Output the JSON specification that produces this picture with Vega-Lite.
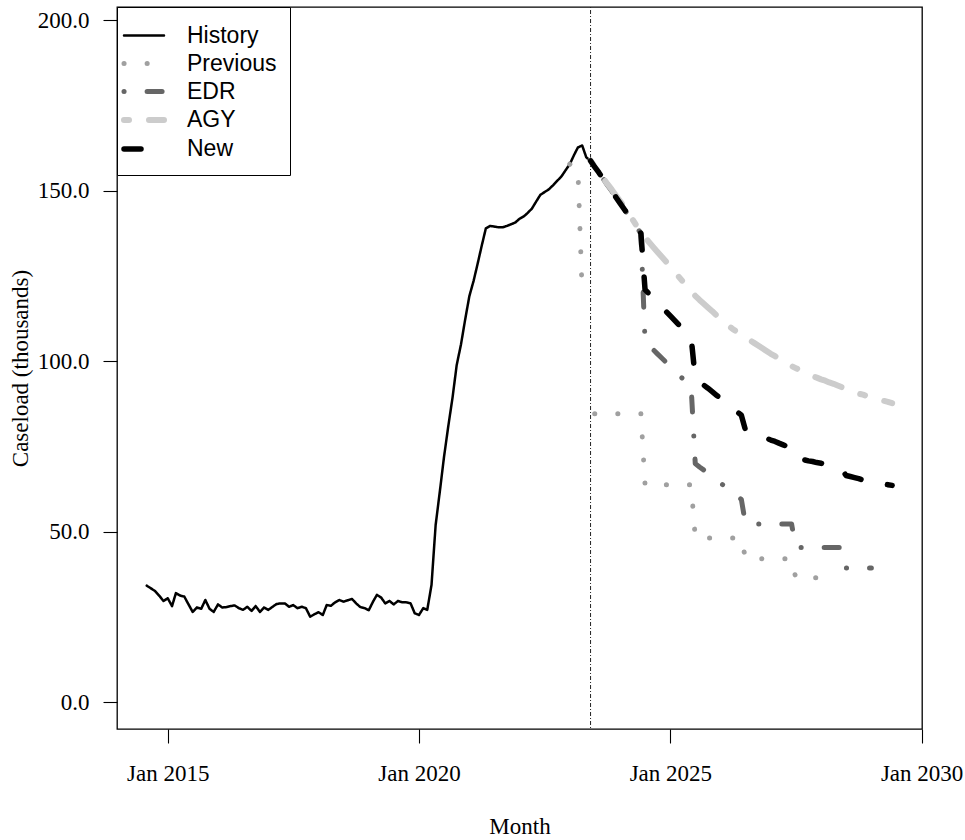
{
 "$schema": "https://vega.github.io/schema/vega-lite/v6.json",
 "width": 805,
 "height": 722,
 "autosize": {"type": "none"},
 "padding": {"left": 117, "top": 7, "right": 43, "bottom": 111},
 "background": "white",
 "config": {
  "view": {"stroke": "#000000", "strokeWidth": 1.3},
  "axis": {"grid": false, "domain": false, "tickColor": "#000000", "tickWidth": 1.1, "tickSize": 14,
           "labelFont": "Liberation Serif", "labelFontSize": 23, "labelColor": "#000000",
           "titleFont": "Liberation Serif", "titleFontSize": 23, "titleFontWeight": "normal", "titleColor": "#000000"},
  "legend": {"orient": "top-left", "offset": 0, "title": null, "strokeColor": "#000000", "fillColor": "#ffffff",
             "padding": 13.5, "symbolType": "M-1.4815,0H1.4815", "symbolSize": 729, "symbolOffset": -3, "labelFont": "Liberation Sans",
             "labelFontSize": 23, "labelColor": "#000000", "labelOffset": 26.5, "rowPadding": 0}
 },
 "data": {"values": [
  {"series":"History","month":"2014-08-01","value":34.2},
  {"series":"History","month":"2014-09-01","value":33.4},
  {"series":"History","month":"2014-10-01","value":32.6},
  {"series":"History","month":"2014-11-01","value":31.2},
  {"series":"History","month":"2014-12-01","value":29.7},
  {"series":"History","month":"2015-01-01","value":30.5},
  {"series":"History","month":"2015-02-01","value":28.2},
  {"series":"History","month":"2015-03-01","value":32.0},
  {"series":"History","month":"2015-04-01","value":31.3},
  {"series":"History","month":"2015-05-01","value":31.0},
  {"series":"History","month":"2015-06-01","value":28.7},
  {"series":"History","month":"2015-07-01","value":26.5},
  {"series":"History","month":"2015-08-01","value":27.8},
  {"series":"History","month":"2015-09-01","value":27.4},
  {"series":"History","month":"2015-10-01","value":30.0},
  {"series":"History","month":"2015-11-01","value":27.4},
  {"series":"History","month":"2015-12-01","value":26.5},
  {"series":"History","month":"2016-01-01","value":28.7},
  {"series":"History","month":"2016-02-01","value":27.8},
  {"series":"History","month":"2016-03-01","value":27.9},
  {"series":"History","month":"2016-04-01","value":28.2},
  {"series":"History","month":"2016-05-01","value":28.4},
  {"series":"History","month":"2016-06-01","value":27.6},
  {"series":"History","month":"2016-07-01","value":27.1},
  {"series":"History","month":"2016-08-01","value":28.0},
  {"series":"History","month":"2016-09-01","value":26.8},
  {"series":"History","month":"2016-10-01","value":28.2},
  {"series":"History","month":"2016-11-01","value":26.5},
  {"series":"History","month":"2016-12-01","value":27.8},
  {"series":"History","month":"2017-01-01","value":27.1},
  {"series":"History","month":"2017-02-01","value":28.0},
  {"series":"History","month":"2017-03-01","value":28.8},
  {"series":"History","month":"2017-04-01","value":29.0},
  {"series":"History","month":"2017-05-01","value":29.0},
  {"series":"History","month":"2017-06-01","value":28.0},
  {"series":"History","month":"2017-07-01","value":28.5},
  {"series":"History","month":"2017-08-01","value":27.6},
  {"series":"History","month":"2017-09-01","value":28.0},
  {"series":"History","month":"2017-10-01","value":27.6},
  {"series":"History","month":"2017-11-01","value":25.1},
  {"series":"History","month":"2017-12-01","value":25.8},
  {"series":"History","month":"2018-01-01","value":26.4},
  {"series":"History","month":"2018-02-01","value":25.6},
  {"series":"History","month":"2018-03-01","value":28.5},
  {"series":"History","month":"2018-04-01","value":28.3},
  {"series":"History","month":"2018-05-01","value":29.3},
  {"series":"History","month":"2018-06-01","value":30.0},
  {"series":"History","month":"2018-07-01","value":29.5},
  {"series":"History","month":"2018-08-01","value":29.9},
  {"series":"History","month":"2018-09-01","value":30.3},
  {"series":"History","month":"2018-10-01","value":29.0},
  {"series":"History","month":"2018-11-01","value":27.9},
  {"series":"History","month":"2018-12-01","value":27.6},
  {"series":"History","month":"2019-01-01","value":27.0},
  {"series":"History","month":"2019-02-01","value":29.5},
  {"series":"History","month":"2019-03-01","value":31.5},
  {"series":"History","month":"2019-04-01","value":30.7},
  {"series":"History","month":"2019-05-01","value":29.0},
  {"series":"History","month":"2019-06-01","value":29.7},
  {"series":"History","month":"2019-07-01","value":28.7},
  {"series":"History","month":"2019-08-01","value":29.7},
  {"series":"History","month":"2019-09-01","value":29.3},
  {"series":"History","month":"2019-10-01","value":29.3},
  {"series":"History","month":"2019-11-01","value":29.0},
  {"series":"History","month":"2019-12-01","value":26.1},
  {"series":"History","month":"2020-01-01","value":25.6},
  {"series":"History","month":"2020-02-01","value":27.6},
  {"series":"History","month":"2020-03-01","value":27.1},
  {"series":"History","month":"2020-04-01","value":34.4},
  {"series":"History","month":"2020-05-01","value":52.0},
  {"series":"History","month":"2020-06-01","value":62.0},
  {"series":"History","month":"2020-07-01","value":72.0},
  {"series":"History","month":"2020-08-01","value":81.0},
  {"series":"History","month":"2020-09-01","value":89.4},
  {"series":"History","month":"2020-10-01","value":98.9},
  {"series":"History","month":"2020-11-01","value":104.9},
  {"series":"History","month":"2020-12-01","value":112.1},
  {"series":"History","month":"2021-01-01","value":119.1},
  {"series":"History","month":"2021-02-01","value":123.6},
  {"series":"History","month":"2021-03-01","value":128.4},
  {"series":"History","month":"2021-04-01","value":133.9},
  {"series":"History","month":"2021-05-01","value":139.0},
  {"series":"History","month":"2021-06-01","value":139.7},
  {"series":"History","month":"2021-07-01","value":139.5},
  {"series":"History","month":"2021-08-01","value":139.3},
  {"series":"History","month":"2021-09-01","value":139.3},
  {"series":"History","month":"2021-10-01","value":139.7},
  {"series":"History","month":"2021-11-01","value":140.2},
  {"series":"History","month":"2021-12-01","value":140.7},
  {"series":"History","month":"2022-01-01","value":141.8},
  {"series":"History","month":"2022-02-01","value":142.5},
  {"series":"History","month":"2022-03-01","value":143.5},
  {"series":"History","month":"2022-04-01","value":144.8},
  {"series":"History","month":"2022-05-01","value":146.8},
  {"series":"History","month":"2022-06-01","value":148.8},
  {"series":"History","month":"2022-07-01","value":149.6},
  {"series":"History","month":"2022-08-01","value":150.4},
  {"series":"History","month":"2022-09-01","value":151.6},
  {"series":"History","month":"2022-10-01","value":152.9},
  {"series":"History","month":"2022-11-01","value":154.2},
  {"series":"History","month":"2022-12-01","value":156.0},
  {"series":"History","month":"2023-01-01","value":157.8},
  {"series":"History","month":"2023-02-01","value":160.5},
  {"series":"History","month":"2023-03-01","value":162.7},
  {"series":"History","month":"2023-04-01","value":163.3},
  {"series":"History","month":"2023-05-01","value":159.8},
  {"series":"History","month":"2023-06-01","value":158.8},

  {"series":"Previous","part":"a","month":"2023-01-01","value":157.8},
  {"series":"Previous","part":"a","month":"2023-02-01","value":157.0},
  {"series":"Previous","part":"a","month":"2023-03-01","value":156.5},
  {"series":"Previous","part":"a","month":"2023-04-01","value":120.0},
  {"series":"Previous","part":"b","month":"2023-07-01","value":84.6},
  {"series":"Previous","part":"b","month":"2023-08-01","value":84.6},
  {"series":"Previous","part":"b","month":"2023-09-01","value":84.6},
  {"series":"Previous","part":"b","month":"2023-10-01","value":84.6},
  {"series":"Previous","part":"b","month":"2023-11-01","value":84.6},
  {"series":"Previous","part":"b","month":"2023-12-01","value":84.6},
  {"series":"Previous","part":"b","month":"2024-01-01","value":84.6},
  {"series":"Previous","part":"b","month":"2024-02-01","value":84.6},
  {"series":"Previous","part":"b","month":"2024-03-01","value":84.6},
  {"series":"Previous","part":"b","month":"2024-04-01","value":84.6},
  {"series":"Previous","part":"b","month":"2024-05-01","value":84.6},
  {"series":"Previous","part":"b","month":"2024-06-01","value":84.6},
  {"series":"Previous","part":"b","month":"2024-07-01","value":63.8},
  {"series":"Previous","part":"b","month":"2024-08-01","value":63.8},
  {"series":"Previous","part":"b","month":"2024-09-01","value":63.8},
  {"series":"Previous","part":"b","month":"2024-10-01","value":63.8},
  {"series":"Previous","part":"b","month":"2024-11-01","value":63.8},
  {"series":"Previous","part":"b","month":"2024-12-01","value":63.8},
  {"series":"Previous","part":"b","month":"2025-01-01","value":63.8},
  {"series":"Previous","part":"b","month":"2025-02-01","value":63.8},
  {"series":"Previous","part":"b","month":"2025-03-01","value":63.8},
  {"series":"Previous","part":"b","month":"2025-04-01","value":63.8},
  {"series":"Previous","part":"b","month":"2025-05-01","value":63.8},
  {"series":"Previous","part":"b","month":"2025-06-01","value":63.8},
  {"series":"Previous","part":"b","month":"2025-07-01","value":48.2},
  {"series":"Previous","part":"b","month":"2025-08-01","value":48.2},
  {"series":"Previous","part":"b","month":"2025-09-01","value":48.2},
  {"series":"Previous","part":"b","month":"2025-10-01","value":48.2},
  {"series":"Previous","part":"b","month":"2025-11-01","value":48.2},
  {"series":"Previous","part":"b","month":"2025-12-01","value":48.2},
  {"series":"Previous","part":"b","month":"2026-01-01","value":48.2},
  {"series":"Previous","part":"b","month":"2026-02-01","value":48.2},
  {"series":"Previous","part":"b","month":"2026-03-01","value":48.2},
  {"series":"Previous","part":"b","month":"2026-04-01","value":48.2},
  {"series":"Previous","part":"b","month":"2026-05-01","value":48.2},
  {"series":"Previous","part":"b","month":"2026-06-01","value":48.2},
  {"series":"Previous","part":"b","month":"2026-07-01","value":42.1},
  {"series":"Previous","part":"b","month":"2026-08-01","value":42.1},
  {"series":"Previous","part":"b","month":"2026-09-01","value":42.1},
  {"series":"Previous","part":"b","month":"2026-10-01","value":42.1},
  {"series":"Previous","part":"b","month":"2026-11-01","value":42.1},
  {"series":"Previous","part":"b","month":"2026-12-01","value":42.1},
  {"series":"Previous","part":"b","month":"2027-01-01","value":42.1},
  {"series":"Previous","part":"b","month":"2027-02-01","value":42.1},
  {"series":"Previous","part":"b","month":"2027-03-01","value":42.1},
  {"series":"Previous","part":"b","month":"2027-04-01","value":42.1},
  {"series":"Previous","part":"b","month":"2027-05-01","value":42.1},
  {"series":"Previous","part":"b","month":"2027-06-01","value":42.1},
  {"series":"Previous","part":"b","month":"2027-07-01","value":36.5},
  {"series":"Previous","part":"b","month":"2027-08-01","value":36.5},
  {"series":"Previous","part":"b","month":"2027-09-01","value":36.5},
  {"series":"Previous","part":"b","month":"2027-10-01","value":36.5},
  {"series":"Previous","part":"b","month":"2027-11-01","value":36.5},
  {"series":"Previous","part":"b","month":"2027-12-01","value":36.5},
  {"series":"Previous","part":"b","month":"2028-01-01","value":36.5},

  {"series":"EDR","month":"2023-06-01","value":158.8},
  {"series":"EDR","month":"2023-07-01","value":157.0},
  {"series":"EDR","month":"2023-08-01","value":155.3},
  {"series":"EDR","month":"2023-09-01","value":153.5},
  {"series":"EDR","month":"2023-10-01","value":151.7},
  {"series":"EDR","month":"2023-11-01","value":150.0},
  {"series":"EDR","month":"2023-12-01","value":148.2},
  {"series":"EDR","month":"2024-01-01","value":146.4},
  {"series":"EDR","month":"2024-02-01","value":144.6},
  {"series":"EDR","month":"2024-03-01","value":142.9},
  {"series":"EDR","month":"2024-04-01","value":141.1},
  {"series":"EDR","month":"2024-05-01","value":139.3},
  {"series":"EDR","month":"2024-06-01","value":137.5},
  {"series":"EDR","month":"2024-07-01","value":105.7},
  {"series":"EDR","month":"2024-08-01","value":104.5},
  {"series":"EDR","month":"2024-09-01","value":103.3},
  {"series":"EDR","month":"2024-10-01","value":102.1},
  {"series":"EDR","month":"2024-11-01","value":100.9},
  {"series":"EDR","month":"2024-12-01","value":99.7},
  {"series":"EDR","month":"2025-01-01","value":98.5},
  {"series":"EDR","month":"2025-02-01","value":97.3},
  {"series":"EDR","month":"2025-03-01","value":96.1},
  {"series":"EDR","month":"2025-04-01","value":94.9},
  {"series":"EDR","month":"2025-05-01","value":93.7},
  {"series":"EDR","month":"2025-06-01","value":92.5},
  {"series":"EDR","month":"2025-07-01","value":70.0},
  {"series":"EDR","month":"2025-08-01","value":69.0},
  {"series":"EDR","month":"2025-09-01","value":68.1},
  {"series":"EDR","month":"2025-10-01","value":67.1},
  {"series":"EDR","month":"2025-11-01","value":66.2},
  {"series":"EDR","month":"2025-12-01","value":65.2},
  {"series":"EDR","month":"2026-01-01","value":64.3},
  {"series":"EDR","month":"2026-02-01","value":63.3},
  {"series":"EDR","month":"2026-03-01","value":62.4},
  {"series":"EDR","month":"2026-04-01","value":61.4},
  {"series":"EDR","month":"2026-05-01","value":60.5},
  {"series":"EDR","month":"2026-06-01","value":59.5},
  {"series":"EDR","month":"2026-07-01","value":52.3},
  {"series":"EDR","month":"2026-08-01","value":52.3},
  {"series":"EDR","month":"2026-09-01","value":52.3},
  {"series":"EDR","month":"2026-10-01","value":52.3},
  {"series":"EDR","month":"2026-11-01","value":52.3},
  {"series":"EDR","month":"2026-12-01","value":52.3},
  {"series":"EDR","month":"2027-01-01","value":52.3},
  {"series":"EDR","month":"2027-02-01","value":52.3},
  {"series":"EDR","month":"2027-03-01","value":52.3},
  {"series":"EDR","month":"2027-04-01","value":52.3},
  {"series":"EDR","month":"2027-05-01","value":52.3},
  {"series":"EDR","month":"2027-06-01","value":52.3},
  {"series":"EDR","month":"2027-07-01","value":45.4},
  {"series":"EDR","month":"2027-08-01","value":45.4},
  {"series":"EDR","month":"2027-09-01","value":45.4},
  {"series":"EDR","month":"2027-10-01","value":45.4},
  {"series":"EDR","month":"2027-11-01","value":45.4},
  {"series":"EDR","month":"2027-12-01","value":45.4},
  {"series":"EDR","month":"2028-01-01","value":45.4},
  {"series":"EDR","month":"2028-02-01","value":45.4},
  {"series":"EDR","month":"2028-03-01","value":45.4},
  {"series":"EDR","month":"2028-04-01","value":45.4},
  {"series":"EDR","month":"2028-05-01","value":45.4},
  {"series":"EDR","month":"2028-06-01","value":45.4},
  {"series":"EDR","month":"2028-07-01","value":39.4},
  {"series":"EDR","month":"2028-08-01","value":39.4},
  {"series":"EDR","month":"2028-09-01","value":39.4},
  {"series":"EDR","month":"2028-10-01","value":39.4},
  {"series":"EDR","month":"2028-11-01","value":39.4},
  {"series":"EDR","month":"2028-12-01","value":39.4},
  {"series":"EDR","month":"2029-01-01","value":39.4},

  {"series":"AGY","month":"2023-06-01","value":158.8},
  {"series":"AGY","month":"2023-07-01","value":157.1},
  {"series":"AGY","month":"2023-08-01","value":155.4},
  {"series":"AGY","month":"2023-09-01","value":153.7},
  {"series":"AGY","month":"2023-10-01","value":152.0},
  {"series":"AGY","month":"2023-11-01","value":150.4},
  {"series":"AGY","month":"2023-12-01","value":148.7},
  {"series":"AGY","month":"2024-01-01","value":147.0},
  {"series":"AGY","month":"2024-02-01","value":145.3},
  {"series":"AGY","month":"2024-03-01","value":143.5},
  {"series":"AGY","month":"2024-04-01","value":141.6},
  {"series":"AGY","month":"2024-05-01","value":139.7},
  {"series":"AGY","month":"2024-06-01","value":137.9},
  {"series":"AGY","month":"2024-07-01","value":136.4},
  {"series":"AGY","month":"2024-08-01","value":134.8},
  {"series":"AGY","month":"2024-09-01","value":133.4},
  {"series":"AGY","month":"2024-10-01","value":132.0},
  {"series":"AGY","month":"2024-11-01","value":130.6},
  {"series":"AGY","month":"2024-12-01","value":129.2},
  {"series":"AGY","month":"2025-01-01","value":127.7},
  {"series":"AGY","month":"2025-02-01","value":126.3},
  {"series":"AGY","month":"2025-03-01","value":124.9},
  {"series":"AGY","month":"2025-04-01","value":123.4},
  {"series":"AGY","month":"2025-05-01","value":122.0},
  {"series":"AGY","month":"2025-06-01","value":120.5},
  {"series":"AGY","month":"2025-07-01","value":119.2},
  {"series":"AGY","month":"2025-08-01","value":118.0},
  {"series":"AGY","month":"2025-09-01","value":116.9},
  {"series":"AGY","month":"2025-10-01","value":115.8},
  {"series":"AGY","month":"2025-11-01","value":114.7},
  {"series":"AGY","month":"2025-12-01","value":113.5},
  {"series":"AGY","month":"2026-01-01","value":112.5},
  {"series":"AGY","month":"2026-02-01","value":111.4},
  {"series":"AGY","month":"2026-03-01","value":110.4},
  {"series":"AGY","month":"2026-04-01","value":109.4},
  {"series":"AGY","month":"2026-05-01","value":108.6},
  {"series":"AGY","month":"2026-06-01","value":107.8},
  {"series":"AGY","month":"2026-07-01","value":107.0},
  {"series":"AGY","month":"2026-08-01","value":106.2},
  {"series":"AGY","month":"2026-09-01","value":105.4},
  {"series":"AGY","month":"2026-10-01","value":104.6},
  {"series":"AGY","month":"2026-11-01","value":103.8},
  {"series":"AGY","month":"2026-12-01","value":103.0},
  {"series":"AGY","month":"2027-01-01","value":102.2},
  {"series":"AGY","month":"2027-02-01","value":101.5},
  {"series":"AGY","month":"2027-03-01","value":100.8},
  {"series":"AGY","month":"2027-04-01","value":100.1},
  {"series":"AGY","month":"2027-05-01","value":99.4},
  {"series":"AGY","month":"2027-06-01","value":98.6},
  {"series":"AGY","month":"2027-07-01","value":98.0},
  {"series":"AGY","month":"2027-08-01","value":97.4},
  {"series":"AGY","month":"2027-09-01","value":96.7},
  {"series":"AGY","month":"2027-10-01","value":96.1},
  {"series":"AGY","month":"2027-11-01","value":95.6},
  {"series":"AGY","month":"2027-12-01","value":95.2},
  {"series":"AGY","month":"2028-01-01","value":94.7},
  {"series":"AGY","month":"2028-02-01","value":94.3},
  {"series":"AGY","month":"2028-03-01","value":93.8},
  {"series":"AGY","month":"2028-04-01","value":93.4},
  {"series":"AGY","month":"2028-05-01","value":92.9},
  {"series":"AGY","month":"2028-06-01","value":92.4},
  {"series":"AGY","month":"2028-07-01","value":91.9},
  {"series":"AGY","month":"2028-08-01","value":91.4},
  {"series":"AGY","month":"2028-09-01","value":90.9},
  {"series":"AGY","month":"2028-10-01","value":90.5},
  {"series":"AGY","month":"2028-11-01","value":90.2},
  {"series":"AGY","month":"2028-12-01","value":89.8},
  {"series":"AGY","month":"2029-01-01","value":89.5},
  {"series":"AGY","month":"2029-02-01","value":89.1},
  {"series":"AGY","month":"2029-03-01","value":88.8},
  {"series":"AGY","month":"2029-04-01","value":88.4},
  {"series":"AGY","month":"2029-05-01","value":88.1},
  {"series":"AGY","month":"2029-06-01","value":87.7},

  {"series":"New","month":"2023-06-01","value":158.8},
  {"series":"New","month":"2023-07-01","value":157.0},
  {"series":"New","month":"2023-08-01","value":155.3},
  {"series":"New","month":"2023-09-01","value":153.5},
  {"series":"New","month":"2023-10-01","value":151.7},
  {"series":"New","month":"2023-11-01","value":150.0},
  {"series":"New","month":"2023-12-01","value":148.2},
  {"series":"New","month":"2024-01-01","value":146.4},
  {"series":"New","month":"2024-02-01","value":144.6},
  {"series":"New","month":"2024-03-01","value":142.9},
  {"series":"New","month":"2024-04-01","value":141.1},
  {"series":"New","month":"2024-05-01","value":139.3},
  {"series":"New","month":"2024-06-01","value":137.5},
  {"series":"New","month":"2024-07-01","value":121.0},
  {"series":"New","month":"2024-08-01","value":119.7},
  {"series":"New","month":"2024-09-01","value":118.5},
  {"series":"New","month":"2024-10-01","value":117.2},
  {"series":"New","month":"2024-11-01","value":115.9},
  {"series":"New","month":"2024-12-01","value":114.6},
  {"series":"New","month":"2025-01-01","value":113.3},
  {"series":"New","month":"2025-02-01","value":112.0},
  {"series":"New","month":"2025-03-01","value":110.8},
  {"series":"New","month":"2025-04-01","value":109.5},
  {"series":"New","month":"2025-05-01","value":108.2},
  {"series":"New","month":"2025-06-01","value":107.0},
  {"series":"New","month":"2025-07-01","value":95.0},
  {"series":"New","month":"2025-08-01","value":94.0},
  {"series":"New","month":"2025-09-01","value":93.0},
  {"series":"New","month":"2025-10-01","value":92.1},
  {"series":"New","month":"2025-11-01","value":91.1},
  {"series":"New","month":"2025-12-01","value":90.1},
  {"series":"New","month":"2026-01-01","value":89.1},
  {"series":"New","month":"2026-02-01","value":88.1},
  {"series":"New","month":"2026-03-01","value":87.2},
  {"series":"New","month":"2026-04-01","value":86.2},
  {"series":"New","month":"2026-05-01","value":85.2},
  {"series":"New","month":"2026-06-01","value":84.2},
  {"series":"New","month":"2026-07-01","value":79.8},
  {"series":"New","month":"2026-08-01","value":79.3},
  {"series":"New","month":"2026-09-01","value":78.8},
  {"series":"New","month":"2026-10-01","value":78.3},
  {"series":"New","month":"2026-11-01","value":77.9},
  {"series":"New","month":"2026-12-01","value":77.4},
  {"series":"New","month":"2027-01-01","value":76.9},
  {"series":"New","month":"2027-02-01","value":76.5},
  {"series":"New","month":"2027-03-01","value":76.0},
  {"series":"New","month":"2027-04-01","value":75.5},
  {"series":"New","month":"2027-05-01","value":75.0},
  {"series":"New","month":"2027-06-01","value":74.5},
  {"series":"New","month":"2027-07-01","value":71.8},
  {"series":"New","month":"2027-08-01","value":71.4},
  {"series":"New","month":"2027-09-01","value":71.1},
  {"series":"New","month":"2027-10-01","value":70.8},
  {"series":"New","month":"2027-11-01","value":70.6},
  {"series":"New","month":"2027-12-01","value":70.3},
  {"series":"New","month":"2028-01-01","value":70.1},
  {"series":"New","month":"2028-02-01","value":69.8},
  {"series":"New","month":"2028-03-01","value":69.6},
  {"series":"New","month":"2028-04-01","value":69.1},
  {"series":"New","month":"2028-05-01","value":68.6},
  {"series":"New","month":"2028-06-01","value":68.2},
  {"series":"New","month":"2028-07-01","value":66.5},
  {"series":"New","month":"2028-08-01","value":66.2},
  {"series":"New","month":"2028-09-01","value":65.9},
  {"series":"New","month":"2028-10-01","value":65.6},
  {"series":"New","month":"2028-11-01","value":65.2},
  {"series":"New","month":"2028-12-01","value":64.9},
  {"series":"New","month":"2029-01-01","value":64.6},
  {"series":"New","month":"2029-02-01","value":64.4},
  {"series":"New","month":"2029-03-01","value":64.2},
  {"series":"New","month":"2029-04-01","value":64.0},
  {"series":"New","month":"2029-05-01","value":63.8},
  {"series":"New","month":"2029-06-01","value":63.6}
 ]},
 "encoding": {
  "x": {"field": "month", "type": "temporal",
        "scale": {"type": "utc", "domain": [{"year": 2013, "month": 12, "date": 28, "utc": true}, {"year": 2030, "month": 1, "date": 4, "utc": true}]},
        "axis": {"values": [{"year": 2015, "month": 1, "date": 1, "utc": true}, {"year": 2020, "month": 1, "date": 1, "utc": true}, {"year": 2025, "month": 1, "date": 1, "utc": true}, {"year": 2030, "month": 1, "date": 1, "utc": true}],
                 "format": "%b %Y", "labelPadding": 19, "labelFlush": false, "labelOverlap": false,
                 "title": "Month", "titleY": 104, "titleBaseline": "alphabetic"}}
 },
 "layer": [
  {"data": {"values": [{"month": "2023-06-01"}]},
   "mark": {"type": "rule", "color": "#222222", "strokeWidth": 1, "strokeDash": [1, 2, 4, 2]}},
  {"encoding": {
    "y": {"field": "value", "type": "quantitative",
          "scale": {"domain": [-7.84, 203.9], "nice": false, "zero": false},
          "axis": {"values": [0, 50, 100, 150, 200], "format": ".1f", "labelPadding": 14,
                   "title": "Caseload (thousands)", "titleX": -90, "titleY": 361, "titleBaseline": "alphabetic"}},
    "color": {"field": "series", "type": "nominal",
              "scale": {"domain": ["History", "Previous", "EDR", "AGY", "New"], "range": ["#000000", "#a0a0a0", "#666666", "#cccccc", "#000000"]},
              "legend": {"encode": {"symbols": {"update": {"strokeCap": {"value": "round"}}}}}},
    "strokeDash": {"field": "series", "type": "nominal",
                   "scale": {"domain": ["History", "Previous", "EDR", "AGY", "New"], "range": [[1, 0], [0.1, 23], [0.1, 23, 15, 24], [5, 20, 28, 20], [17, 27]]}},
    "strokeWidth": {"field": "series", "type": "ordinal",
                    "scale": {"type": "ordinal", "domain": ["History", "Previous", "EDR", "AGY", "New"], "range": [2.5, 5, 5, 6, 5.5]}}
   },
   "layer": [
    {"transform": [{"filter": "datum.series === 'History'"}], "mark": {"type": "line", "strokeCap": "round", "strokeJoin": "round"}},
    {"transform": [{"filter": "datum.series === 'Previous'"}], "mark": {"type": "line", "strokeCap": "round", "strokeJoin": "round"}, "encoding": {"detail": {"field": "part", "type": "nominal"}}},
    {"transform": [{"filter": "datum.series === 'EDR'"}], "mark": {"type": "line", "strokeCap": "round", "strokeJoin": "round"}},
    {"transform": [{"filter": "datum.series === 'AGY'"}], "mark": {"type": "line", "strokeCap": "round", "strokeJoin": "round"}},
    {"transform": [{"filter": "datum.series === 'New'"}], "mark": {"type": "line", "strokeCap": "round", "strokeJoin": "round"}}
   ]}
 ]
}
